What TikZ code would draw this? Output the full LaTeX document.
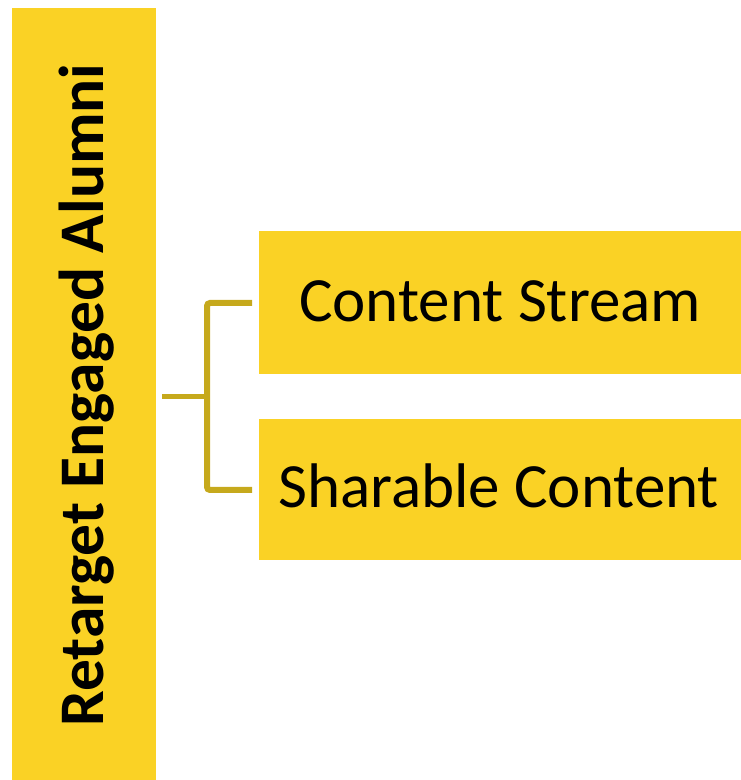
\documentclass[tikz,border=0pt]{standalone}
\usepackage{fontspec}
\setmainfont{Carlito}
\definecolor{boxyellow}{HTML}{FAD225}
\definecolor{linkgold}{HTML}{C6A91C}
\tikzset{
  x=1pt, y=1pt,
  panel/.style={fill=boxyellow, draw=none, rectangle, inner sep=0pt, anchor=north west},
  itemtext/.style={anchor=base west, inner sep=0pt, font=\fontsize{63}{70}\selectfont, text=black},
  link/.style={draw=linkgold, line width=6pt, rounded corners=3pt}
}
\begin{document}
\begin{tikzpicture}
  \useasboundingbox (0,0) rectangle (741,780);
  % left vertical bar with its title
  \node[panel, minimum width=144pt, minimum height=772pt] (root) at (12,772) {};
  \node[anchor=base, rotate=90, inner sep=0pt, font=\fontsize{63.5}{70}\selectfont\bfseries]
    (roottext) at (103,385) {Retarget Engaged Alumni};
  % right-hand boxes (run past the right edge)
  \node[panel, minimum width=520pt, minimum height=143pt] (cs) at (259,549) {};
  \node[itemtext] (cstext) at (299,458) {Content Stream};
  \node[panel, minimum width=520pt, minimum height=141pt] (sc) at (259,361) {};
  \node[itemtext] (sctext) at (278,272) {Sharable Content};
  % bracket connector
  \coordinate (stubL) at (162,383);
  \coordinate (junction) at (207,383);
  \coordinate (csend) at (252,477);
  \coordinate (scend) at (252,290);
  \draw[draw=linkgold, line width=5pt] (stubL) -- (junction);
  \draw[link] (csend) -- (207,477) -- (207,290) -- (scend);
\end{tikzpicture}
\end{document}
